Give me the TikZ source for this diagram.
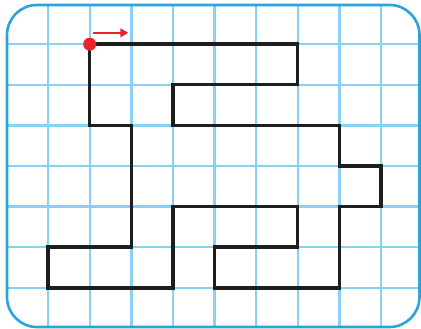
\documentclass[tikz,border=0pt]{standalone}
\usetikzlibrary{arrows.meta}
\definecolor{frameblue}{HTML}{2BA3DC}
\definecolor{gridblue}{HTML}{88D1F2}
\definecolor{pathblack}{HTML}{1E1E1E}
\definecolor{dotred}{HTML}{E8232A}
\tikzset{
  framebox/.style={draw=frameblue, line width=2.6pt, rounded corners=30pt},
  gridline/.style={draw=gridblue, line width=2.4pt},
  mazepath/.style={draw=pathblack, line width=3.4pt, line join=miter},
  startdot/.style={circle, fill=dotred, inner sep=0pt, minimum size=13pt},
  dirarrow/.style={draw=dotred, line width=2.2pt, -{Triangle[length=8pt,width=8.5pt]}}
}
\begin{document}
\begin{tikzpicture}[x=41.6pt,y=-40.6pt]
\useasboundingbox (-0.15625,-0.0887) rectangle (9.964,8.0148);
\fill[white] (-0.15625,-0.0887) rectangle (9.964,8.0148);
% grid clipped to frame
\begin{scope}
  \clip[rounded corners=30pt] (0.012,0.034) rectangle (9.928,7.966);
  \foreach \i in {1,...,9} \draw[gridline] (\i,-0.2) -- (\i,8.2);
  \foreach \j in {1,...,7} \draw[gridline] (-0.2,\j) -- (10.2,\j);
\end{scope}
\draw[framebox] (0.012,0.034) rectangle (9.928,7.966);
% path
\coordinate (s) at (2,1);
\draw[mazepath] (s) -- (7,1) -- (7,2) -- (4,2) -- (4,3) -- (8,3) -- (8,4) -- (9,4)
  -- (9,5) -- (8,5) -- (8,7) -- (5,7) -- (5,6) -- (7,6) -- (7,5) -- (4,5)
  -- (4,7) -- (1,7) -- (1,6) -- (3,6) -- (3,3) -- (2,3) -- cycle;
\node[startdot] (start) at (s) {};
\coordinate (a1) at (2.08,0.72);
\coordinate (a2) at (2.93,0.72);
\draw[dirarrow] (a1) -- (a2);
\end{tikzpicture}
\end{document}
